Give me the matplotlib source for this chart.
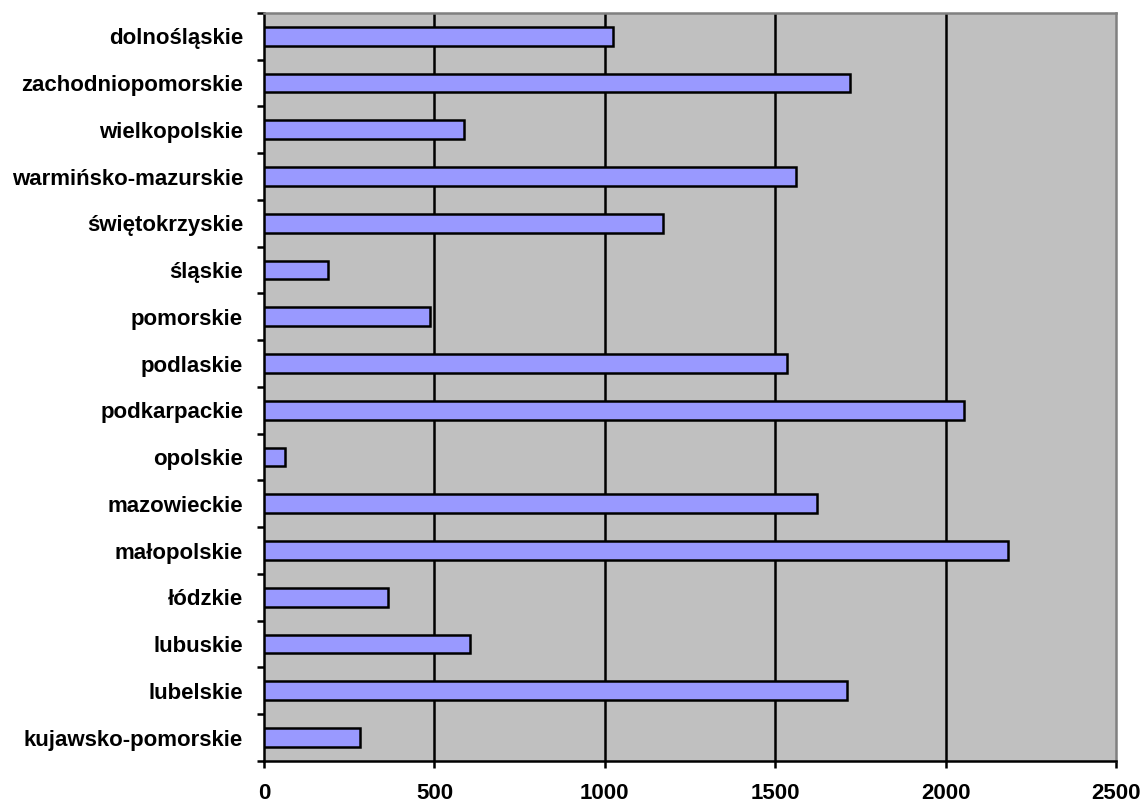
import numpy as np
import matplotlib
matplotlib.use("Agg")
import matplotlib.pyplot as plt

# voivodeships, listed bottom to top as in the chart
regions = ["kujawsko-pomorskie", "lubelskie", "lubuskie", "łódzkie", "małopolskie",
           "mazowieckie", "opolskie", "podkarpackie", "podlaskie", "pomorskie",
           "śląskie", "świętokrzyskie", "warmińsko-mazurskie", "wielkopolskie",
           "zachodniopomorskie", "dolnośląskie"]
values = [283, 1711, 605, 364, 2183, 1623, 61, 2053, 1534, 488,
          189, 1170, 1561, 588, 1720, 1025]
x_ticks = [0, 500, 1000, 1500, 2000, 2500]

plt.rcParams['font.family'] = ['Liberation Sans', 'DejaVu Sans']
plt.rcParams['font.weight'] = 'bold'

fig = plt.figure(figsize=(11.44, 8.05), dpi=100)
ax = fig.add_axes([0.2308, 0.0547, 0.7447, 0.9292])
ax.set_facecolor('#C0C0C0')

y = np.arange(len(regions))
ax.barh(y, values, height=0.4, color='#9999FF', edgecolor='black', linewidth=1.8, zorder=3)

ax.set_xlim(0, 2500)
ax.set_ylim(-0.5, len(regions) - 0.5)

for g in x_ticks[1:-1]:
    ax.axvline(g, color='black', linewidth=1.8, zorder=1)

ax.set_xticks(x_ticks)
ax.set_xticklabels([str(t) for t in x_ticks], fontsize=16, fontweight='bold')
ax.tick_params(axis='x', length=5, width=1.8, pad=11, color='black')

ax.set_yticks(y)
ax.set_yticklabels(regions, fontsize=16, fontweight='bold')
ax.tick_params(axis='y', which='major', length=0, pad=15)
ax.set_yticks(np.arange(len(regions) + 1) - 0.5, minor=True)
ax.tick_params(axis='y', which='minor', length=5, width=1.8, color='black')

ax.spines['left'].set_color('black')
ax.spines['left'].set_linewidth(1.8)
ax.spines['bottom'].set_color('black')
ax.spines['bottom'].set_linewidth(1.8)
ax.spines['top'].set_color('#808080')
ax.spines['right'].set_color('#808080')
ax.spines['top'].set_linewidth(1.8)
ax.spines['right'].set_linewidth(1.8)

fig.savefig("out.png", dpi=100)
